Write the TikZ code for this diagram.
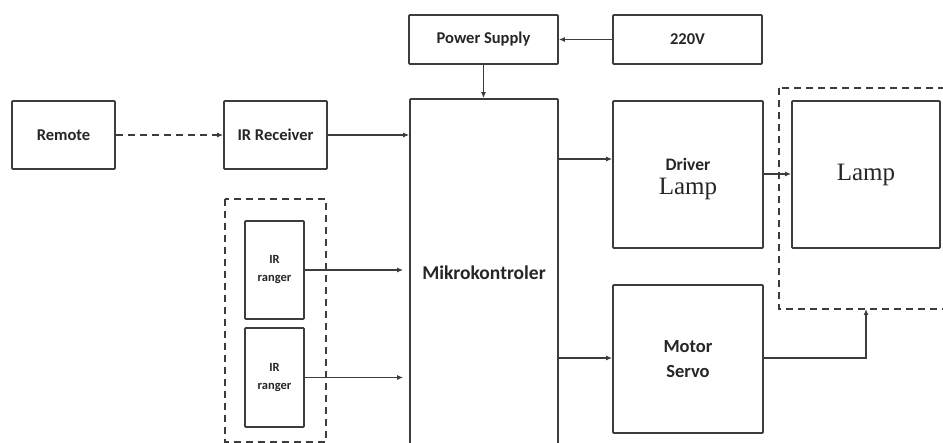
\documentclass[tikz,border=0pt]{standalone}
\usepackage{fontspec}
\setmainfont{Carlito}
\newfontfamily\serifL{Liberation Serif}
\usetikzlibrary{arrows.meta}
\definecolor{bord}{HTML}{3C3C3C}
\definecolor{txt}{HTML}{262626}
\tikzset{
  blk/.style={draw=bord, line width=1.7pt, rounded corners=0.8pt, inner sep=0pt, text=txt, font=\bfseries\fontsize{16.5}{19}\selectfont, align=center},
  dbox/.style={draw=bord, line width=1.4pt, dash pattern=on 7pt off 5pt},
  conn/.style={draw=bord, line width=1.4pt, -{Latex[length=6pt,width=5pt]}},
}
\begin{document}
\begin{tikzpicture}[x=1pt,y=-1pt]
\useasboundingbox (0,0) rectangle (943,443);
\clip (0,0) rectangle (943,443);
\fill[white] (0,0) rectangle (943,443);
% dashed groups
\draw[dbox] (225,199) rectangle (326,442);
\draw[dbox] (779,88) rectangle (965,309);
% blocks
\node[blk, minimum width=103pt, minimum height=68pt] (remote) at (63.5,135) {Remote};
\node[blk, minimum width=103pt, minimum height=68pt] (irrec) at (275.5,135) {IR Receiver};
\node[blk, minimum width=149pt, minimum height=49pt] (power) at (483.5,39.5) {Power Supply};
\node[blk, minimum width=149pt, minimum height=49pt] (v220) at (687.5,39.5) {220V};
\node[blk, minimum width=148pt, minimum height=347pt, font=\bfseries\fontsize{19.5}{22}\selectfont] (mikro) at (484,272.5) {Mikrokontroler};
\node[blk, minimum width=59pt, minimum height=98pt, font=\bfseries\fontsize{12.5}{18}\selectfont] (r1) at (274.5,270) {IR\\ranger};
\node[blk, minimum width=59pt, minimum height=99pt, font=\bfseries\fontsize{12.5}{18}\selectfont] (r2) at (274.5,377.5) {IR\\ranger};
\node[blk, minimum width=150pt, minimum height=147pt] (driver) at (688,174.5) {\rule{0pt}{0pt}\\[3pt]{\bfseries\fontsize{17.5}{20}\selectfont Driver}\\[5pt]{\serifL\mdseries\fontsize{25}{26}\selectfont Lamp}};
\node[blk, minimum width=148pt, minimum height=147pt, font=\serifL\fontsize{25}{26}\selectfont] (lamp) at (866,174.5) {Lamp};
\node[blk, minimum width=150pt, minimum height=148pt, font=\bfseries\fontsize{18.5}{25}\selectfont] (motor) at (688,359) {Motor\\Servo};
\coordinate (lampgrp) at (866,309);
% connectors
\draw[conn, dash pattern=on 7pt off 5pt] (remote) -- (irrec);
\draw[conn] (irrec.east) -- (irrec.east -| mikro.west);
\draw[conn] (v220) -- (power);
\draw[conn] (power) -- (mikro.north -| power.south);
\draw[conn, shorten >=6pt] (r1.east) -- (r1.east -| mikro.west);
\draw[conn, shorten >=6pt] (r2.east) -- (r2.east -| mikro.west);
\draw[conn] (mikro.east |- 0,159) -- (driver.west |- 0,159);
\draw[conn] (driver.east |- 0,174) -- (lamp.west |- 0,174);
\draw[conn] (mikro.east |- 0,358) -- (motor.west |- 0,358);
\draw[conn] (motor.east |- 0,358) -| (lampgrp);
\end{tikzpicture}
\end{document}
